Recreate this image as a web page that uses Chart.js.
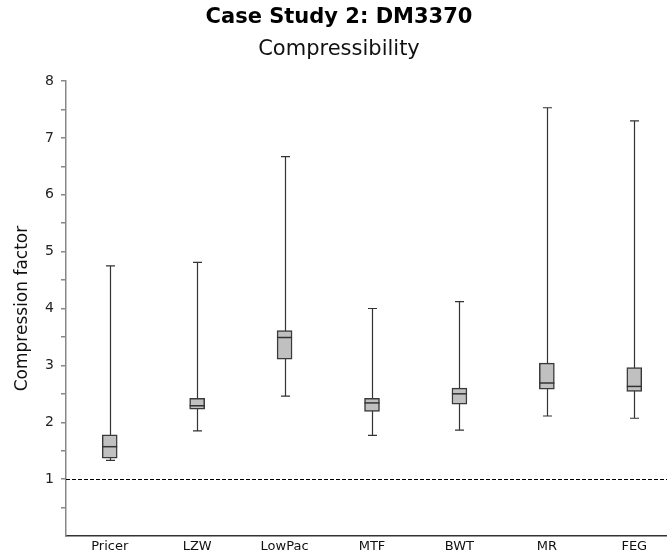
<!DOCTYPE html>
<html>
<head>
<meta charset="utf-8">
<script src="https://cdn.jsdelivr.net/npm/chart.js@4/dist/chart.umd.min.js"></script>
<style>
  html, body { margin: 0; padding: 0; background: #fff; overflow: hidden; }
  #wrap { position: relative; width: 684px; height: 554px; }
</style>
</head>
<body>
<div id="wrap"><canvas id="c"></canvas></div>
<script>
// ---- data ----
const categories   = ['Pricer', 'LZW', 'LowPac', 'MTF', 'BWT', 'MR', 'FEG'];
const whiskerLow   = [1.33, 1.85, 2.46, 1.77, 1.86, 2.11, 2.07];
const quartile1    = [1.37, 2.23, 3.11, 2.19, 2.32, 2.58, 2.54];
const medians      = [1.57, 2.29, 3.49, 2.34, 2.50, 2.69, 2.63];
const quartile3    = [1.78, 2.42, 3.61, 2.42, 2.60, 3.04, 2.96];
const whiskerHigh  = [4.75, 4.81, 6.67, 4.00, 4.12, 7.53, 7.30];
const referenceLine = 1;
const yTickLabels  = [1, 2, 3, 4, 5, 6, 7, 8];

const FONT = "'DejaVu Sans', sans-serif";

const boxPlugin = {
  id: 'boxExtras',
  beforeDatasetsDraw(chart) {
    const { ctx, chartArea, scales: { x, y } } = chart;
    ctx.save();
    // dashed reference line
    const yr = Math.round(y.getPixelForValue(referenceLine)) + 0.5;
    ctx.strokeStyle = '#000';
    ctx.lineWidth = 1;
    ctx.setLineDash([4, 2]);
    ctx.beginPath();
    ctx.moveTo(chartArea.left, yr);
    ctx.lineTo(chartArea.right, yr);
    ctx.stroke();
    ctx.setLineDash([]);
    // whiskers
    ctx.strokeStyle = '#333';
    ctx.lineWidth = 1.2;
    categories.forEach((c, i) => {
      const cx = Math.round(x.getPixelForValue(i)) + 0.5;
      const yl = y.getPixelForValue(whiskerLow[i]);
      const yh = y.getPixelForValue(whiskerHigh[i]);
      ctx.beginPath();
      ctx.moveTo(cx, yl);
      ctx.lineTo(cx, yh);
      ctx.moveTo(cx - 4.5, yl);
      ctx.lineTo(cx + 4.5, yl);
      ctx.moveTo(cx - 4.5, yh);
      ctx.lineTo(cx + 4.5, yh);
      ctx.stroke();
    });
    ctx.restore();
  },
  afterDatasetsDraw(chart) {
    const { ctx, scales: { x, y } } = chart;
    ctx.save();
    ctx.strokeStyle = '#333';
    ctx.lineWidth = 1.5;
    categories.forEach((c, i) => {
      const cx = x.getPixelForValue(i);
      const ym = y.getPixelForValue(medians[i]);
      ctx.beginPath();
      ctx.moveTo(cx - 7.5, ym);
      ctx.lineTo(cx + 7.5, ym);
      ctx.stroke();
    });
    ctx.restore();
  }
};

new Chart(document.getElementById('c'), {
  type: 'bar',
  data: {
    labels: categories,
    datasets: [{
      data: categories.map((c, i) => [quartile1[i], quartile3[i]]),
      backgroundColor: '#c0c0c0',
      borderColor: '#3a3a3a',
      borderWidth: 1.5,
      borderSkipped: false,
      barThickness: 15
    }]
  },
  plugins: [boxPlugin],
  options: {
    responsive: true,
    maintainAspectRatio: false,
    animation: false,
    layout: { padding: { left: 0, right: 6, top: 0, bottom: 0 } },
    plugins: {
      legend: { display: false },
      tooltip: { enabled: false },
      title: {
        display: true,
        text: 'Case Study 2: DM3370',
        color: '#000',
        font: { family: FONT, size: 21, weight: 'bold' },
        padding: { top: 5, bottom: 4 }
      },
      subtitle: {
        display: true,
        text: 'Compressibility',
        color: '#111',
        font: { family: FONT, size: 21, weight: 'normal' },
        padding: { top: 3, bottom: 18.6 }
      }
    },
    scales: {
      x: {
        type: 'category',
        afterFit(scale) { scale.height = 18; },
        grid: { display: false, drawTicks: false },
        border: { display: true, color: '#333', width: 1.5 },
        ticks: {
          color: '#111',
          font: { family: FONT, size: 13 },
          padding: 3,
          maxRotation: 0,
          autoSkip: false
        }
      },
      y: {
        min: 0,
        max: 8,
        afterFit(scale) { scale.width = 66; },
        afterBuildTicks(scale) {
          const t = [];
          for (let v = 0; v <= 8; v += 0.5) t.push({ value: v });
          scale.ticks = t;
        },
        grid: {
          drawOnChartArea: false,
          drawTicks: true,
          tickLength: 5,
          color: (ctx) => (ctx.tick && ctx.tick.value === 0 ? 'rgba(0,0,0,0)' : '#888'),
          lineWidth: 1.5
        },
        border: { display: true, color: '#888', width: 1.5 },
        ticks: {
          color: '#222',
          font: { family: FONT, size: 14 },
          padding: 7,
          autoSkip: false,
          callback: (v) => (yTickLabels.includes(v) ? String(v) : '')
        },
        title: {
          display: true,
          text: 'Compression factor',
          color: '#111',
          font: { family: FONT, size: 17 },
          padding: { top: 12, bottom: 0 }
        }
      }
    }
  }
});
</script>
</body>
</html>
